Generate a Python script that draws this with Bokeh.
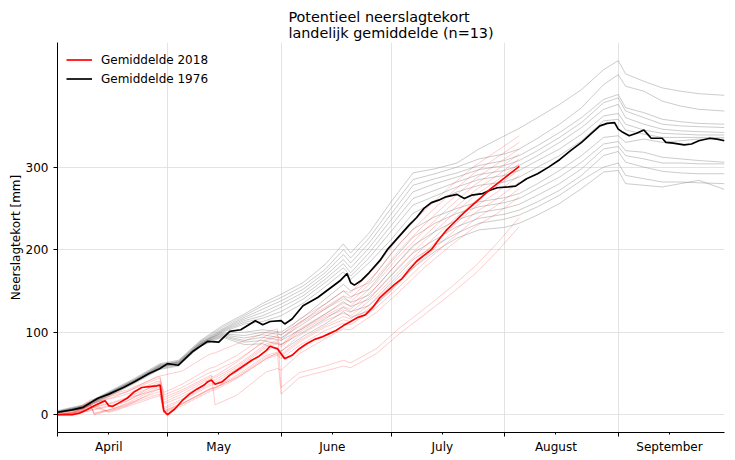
from bokeh.plotting import figure
from bokeh.models import FixedTicker, Range1d, Legend, LegendItem
from bokeh.embed import file_html
from bokeh.resources import INLINE

FONT = "DejaVu Sans"

# x = days since 1 April
month_starts = [0, 30, 61, 91, 122, 153]
month_mids = [14, 44, 75, 105, 136, 167]
month_names = ["April", "May", "June", "July", "August", "September"]
y_ticks = [0, 100, 200, 300]

# ---- national mean 2018 ----
mean2018_days = [0, 4, 6, 8, 10, 12, 13, 14, 15, 17, 19, 21, 23, 25, 27, 28, 29, 30, 32, 34,
                 36, 38, 40, 41, 42, 43, 45, 47, 49, 51, 53, 55, 57, 58, 60, 62, 64, 66, 68, 70,
                 72, 74, 76, 78, 80, 82, 84, 86, 88, 90, 92, 94, 96, 98, 100, 102, 104, 106, 108, 110,
                 112, 114, 116, 118, 120, 122, 124, 126]
mean2018 = [0, 0, 2, 6, 11, 15, 17, 11, 10, 15, 20, 28, 33, 34, 35, 36, 5, 0, 7, 17,
            25, 31, 36, 40, 42, 37, 40, 48, 54, 60, 66, 71, 78, 83, 80, 68, 72, 80, 86, 91,
            94, 98, 102, 108, 113, 118, 121, 130, 142, 150, 158, 165, 176, 186, 193, 200, 212, 223, 232, 241,
            249, 257, 265, 273, 280, 287, 294, 301]

# ---- national mean 1976 ----
mean1976_days = [0, 4, 7, 11, 14, 18, 21, 25, 28, 30, 33, 37, 41, 44, 47, 50, 54, 56, 58, 61,
                 62, 64, 67, 71, 74, 77, 79, 80, 81, 83, 85, 88, 90, 92, 94, 96, 98, 100, 102, 104,
                 106, 109, 111, 113, 116, 118, 120, 123, 125, 128, 131, 134, 137, 140, 143, 146, 148, 150, 152, 153,
                 154, 156, 158, 160, 161, 162, 165, 166, 168, 171, 173, 175, 178, 180, 182]
mean1976 = [3, 6, 9, 20, 25, 33, 40, 50, 56, 62, 60, 77, 89, 88, 101, 103, 114, 109, 113, 114,
            110, 116, 132, 142, 152, 162, 171, 160, 157, 163, 172, 187, 200, 210, 220, 230, 239, 250, 257, 260,
            264, 267, 262, 266, 268, 272, 275, 276, 277, 286, 292, 300, 309, 320, 330, 342, 350, 353, 354, 346,
            343, 338, 341, 345, 340, 335, 335, 330, 329, 327, 328, 332, 335, 334, 332]

# ---- 13 stations 1976 ----
days_1976 = [0, 7, 14, 21, 28, 33, 39, 45, 51, 56, 61, 67, 73, 78, 80, 85, 91,
             97, 103, 109, 115, 122, 126, 131, 137, 143, 149, 153, 155, 160, 165, 170, 175, 182]
st1976_01 = [5, 12, 28, 44, 62, 66, 90, 108, 122, 135, 146, 160, 182, 207, 196, 220, 258,
             293, 298, 305, 322, 338, 347, 360, 376, 394, 418, 429, 413, 404, 396, 392, 389, 387]
st1976_02 = [4, 11, 27, 43, 61, 65, 89, 106, 120, 132, 142, 156, 176, 200, 190, 214, 250,
             285, 292, 300, 310, 316, 322, 335, 352, 372, 400, 412, 398, 392, 380, 374, 370, 368]
st1976_03 = [4, 11, 27, 42, 60, 64, 88, 104, 118, 128, 138, 152, 172, 194, 184, 208, 243,
             278, 286, 293, 302, 308, 314, 326, 342, 360, 382, 388, 372, 366, 358, 355, 353, 352]
st1976_04 = [3, 10, 26, 42, 59, 64, 87, 103, 116, 124, 134, 148, 168, 188, 178, 202, 236,
             270, 280, 288, 297, 302, 308, 320, 336, 354, 378, 384, 368, 360, 352, 350, 349, 348]
st1976_05 = [4, 10, 26, 41, 59, 63, 86, 102, 114, 120, 130, 144, 164, 183, 172, 196, 229,
             262, 272, 282, 291, 296, 302, 314, 330, 348, 370, 376, 360, 352, 346, 344, 343, 342]
st1976_06 = [3, 10, 25, 41, 58, 63, 86, 101, 112, 117, 125, 140, 160, 178, 168, 190, 222,
             254, 265, 276, 285, 290, 296, 308, 322, 340, 362, 365, 352, 345, 341, 340, 339, 339]
st1976_07 = [3, 9, 25, 40, 58, 62, 85, 100, 110, 113, 120, 135, 155, 173, 164, 184, 212,
             244, 258, 270, 278, 282, 288, 300, 314, 332, 356, 358, 345, 340, 336, 336, 336, 336]
st1976_08 = [4, 10, 26, 42, 60, 64, 88, 99, 100, 103, 100, 118, 140, 158, 150, 160, 195,
             225, 240, 250, 258, 263, 268, 280, 296, 314, 336, 338, 330, 334, 330, 332, 334, 334]
st1976_09 = [3, 9, 24, 40, 58, 62, 86, 98, 96, 100, 97, 114, 134, 150, 143, 152, 185,
             215, 232, 244, 252, 257, 262, 274, 288, 306, 328, 331, 320, 318, 312, 310, 308, 306]
st1976_10 = [2, 8, 24, 39, 57, 61, 85, 97, 93, 97, 93, 110, 128, 143, 136, 145, 175,
             205, 222, 236, 245, 250, 255, 266, 280, 298, 322, 325, 314, 310, 305, 305, 304, 304]
st1976_11 = [3, 9, 25, 41, 58, 62, 86, 96, 90, 94, 90, 105, 122, 137, 131, 140, 168,
             196, 212, 228, 238, 243, 248, 258, 272, 290, 314, 319, 306, 300, 295, 293, 292, 292]
st1976_12 = [2, 8, 23, 39, 56, 60, 84, 95, 88, 90, 85, 100, 116, 130, 125, 132, 160,
             188, 205, 220, 232, 237, 242, 252, 266, 284, 300, 305, 290, 286, 282, 282, 281, 280]
st1976_13 = [2, 7, 22, 38, 55, 59, 83, 94, 85, 86, 77, 95, 110, 125, 118, 126, 150,
             178, 198, 214, 224, 227, 232, 242, 256, 274, 294, 296, 280, 278, 276, 280, 284, 273]

# ---- 13 stations 2018 ----
days_2018 = [0, 4, 9, 10, 14, 15, 19, 27, 28, 29, 34, 41, 42, 43, 49, 57, 60, 61, 66, 73,
             78, 80, 87, 93, 100, 107, 114, 120, 126]
st2018_01 = [0, 2, 12, 14, 20, 21, 28, 46, 47, 48, 53, 72, 74, 75, 86, 100, 104, 33, 51, 59,
             66, 63, 80, 104, 128, 153, 180, 208, 239]
st2018_02 = [0, 1, 8, 9, 13, 14, 20, 30, 31, 3, 13, 30, 32, 33, 45, 68, 75, 25, 45, 53,
             59, 57, 74, 97, 121, 145, 171, 198, 228]
st2018_03 = [0, 3, 16, 17, 22, 23, 28, 43, 44, 27, 37, 55, 57, 58, 72, 96, 100, 96, 116, 134,
             150, 148, 180, 214, 247, 276, 302, 320, 338]
st2018_04 = [1, 2, 14, 15, 19, 20, 25, 40, 41, 24, 33, 50, 52, 53, 66, 90, 94, 90, 110, 128,
             140, 137, 166, 198, 230, 259, 286, 304, 322]
st2018_05 = [0, 1, 12, 2, 6, 7, 13, 27, 28, 5, 14, 30, 32, 33, 48, 72, 76, 73, 90, 108,
             119, 116, 140, 166, 196, 225, 252, 270, 290]
st2018_06 = [2, 4, 18, 19, 24, 25, 30, 45, 46, 21, 30, 46, 48, 12, 24, 52, 56, 54, 74, 92,
             104, 103, 124, 148, 178, 204, 228, 244, 264]
st2018_07 = [0, 2, 10, 11, 4, 5, 11, 30, 31, 7, 17, 34, 36, 37, 52, 78, 82, 77, 96, 114,
             123, 120, 145, 173, 203, 232, 259, 277, 297]
st2018_08 = [1, 3, 13, 1, 6, 7, 14, 32, 33, 9, 19, 36, 38, 39, 56, 82, 86, 82, 100, 118,
             127, 124, 150, 179, 210, 239, 266, 284, 304]
st2018_09 = [0, 1, 9, 10, 14, 15, 21, 36, 37, 15, 25, 42, 44, 45, 60, 86, 90, 85, 104, 122,
             135, 132, 160, 191, 223, 252, 279, 297, 316]
st2018_10 = [0, 0, 6, 7, 11, 12, 17, 34, 35, 13, 22, 39, 41, 42, 58, 84, 88, 84, 102, 120,
             131, 128, 155, 185, 216, 245, 272, 290, 310]
st2018_11 = [1, 2, 11, 0, 5, 6, 12, 24, 25, 2, 11, 27, 29, 30, 44, 68, 72, 68, 84, 102,
             111, 109, 130, 154, 184, 211, 237, 254, 274]
st2018_12 = [0, 1, 8, 9, 3, 4, 10, 22, 23, 4, 13, 29, 31, 32, 46, 70, 74, 71, 88, 106,
             115, 113, 135, 160, 190, 218, 245, 262, 282]
st2018_13 = [0, 0, 5, 6, 10, 11, 16, 38, 39, 18, 28, 44, 46, 47, 64, 92, 96, 92, 112, 130,
             144, 141, 172, 206, 238, 267, 294, 312, 330]

stations_1976 = [st1976_01, st1976_02, st1976_03, st1976_04, st1976_05, st1976_06, st1976_07,
                 st1976_08, st1976_09, st1976_10, st1976_11, st1976_12, st1976_13]
stations_2018 = [st2018_01, st2018_02, st2018_03, st2018_04, st2018_05, st2018_06, st2018_07,
                 st2018_08, st2018_09, st2018_10, st2018_11, st2018_12, st2018_13]

p = figure(width=735, height=460, output_backend="svg", toolbar_location=None,
           x_range=Range1d(0, 182), y_range=Range1d(-21.5, 451),
           min_border_left=57, min_border_right=11, min_border_top=42, min_border_bottom=28,
           title="Potentieel neerslagtekort\nlandelijk gemiddelde (n=13)")
p.outline_line_color = None
p.background_fill_color = "white"
p.border_fill_color = "white"

p.title.align = "center"
p.title.text_font = FONT
p.title.text_font_size = "14.4px"
p.title.text_font_style = "normal"
p.title.text_color = "black"
p.title.standoff = 4
p.title.offset = 0

for s in stations_1976:
    p.line(days_1976, s, line_color="grey", line_alpha=0.4, line_width=1)
for s in stations_2018:
    p.line(days_2018, s, line_color="red", line_alpha=0.2, line_width=1)

r_1976 = p.line(mean1976_days, mean1976, line_color="black", line_width=1.7)
r_2018 = p.line(mean2018_days, mean2018, line_color="red", line_width=1.7)

# axes
xa = p.xaxis[0]
xa.ticker = FixedTicker(ticks=month_mids, minor_ticks=month_starts)
xa.major_label_overrides = {m: n for m, n in zip(month_mids, month_names)}
xa.major_tick_out = 2
xa.major_tick_in = 0
xa.minor_tick_out = 4
xa.minor_tick_in = 0
xa.minor_tick_line_color = "black"
xa.major_tick_line_color = "black"
xa.axis_line_color = "black"
xa.major_label_text_font = FONT
xa.major_label_text_font_size = "12px"
xa.major_label_text_color = "black"
xa.major_label_standoff = 3

ya = p.yaxis[0]
ya.ticker = FixedTicker(ticks=y_ticks)
ya.major_tick_out = 4
ya.major_tick_in = 0
ya.minor_tick_line_color = None
ya.axis_line_color = "black"
ya.major_tick_line_color = "black"
ya.major_label_text_font = FONT
ya.major_label_text_font_size = "12px"
ya.major_label_text_color = "black"
ya.major_label_standoff = 5
ya.axis_label = "Neerslagtekort [mm]"
ya.axis_label_text_font = FONT
ya.axis_label_text_font_size = "12px"
ya.axis_label_text_font_style = "normal"
ya.axis_label_text_color = "black"
ya.axis_label_standoff = 0

p.xgrid.ticker = FixedTicker(ticks=month_starts[1:])
p.xgrid.grid_line_color = "#dcdcdc"
p.xgrid.grid_line_width = 0.8
p.ygrid.grid_line_color = "#dcdcdc"
p.ygrid.grid_line_width = 0.8

legend = Legend(items=[LegendItem(label="Gemiddelde 2018", renderers=[r_2018]),
                       LegendItem(label="Gemiddelde 1976", renderers=[r_1976])],
                location="top_left", margin=9, padding=0, spacing=2,
                glyph_width=26, glyph_height=17, label_height=17, label_standoff=9,
                label_text_font=FONT, label_text_font_size="12px", label_text_color="black",
                background_fill_alpha=0, border_line_color=None)
p.add_layout(legend)

open("out.html", "w").write(file_html(p, INLINE))
